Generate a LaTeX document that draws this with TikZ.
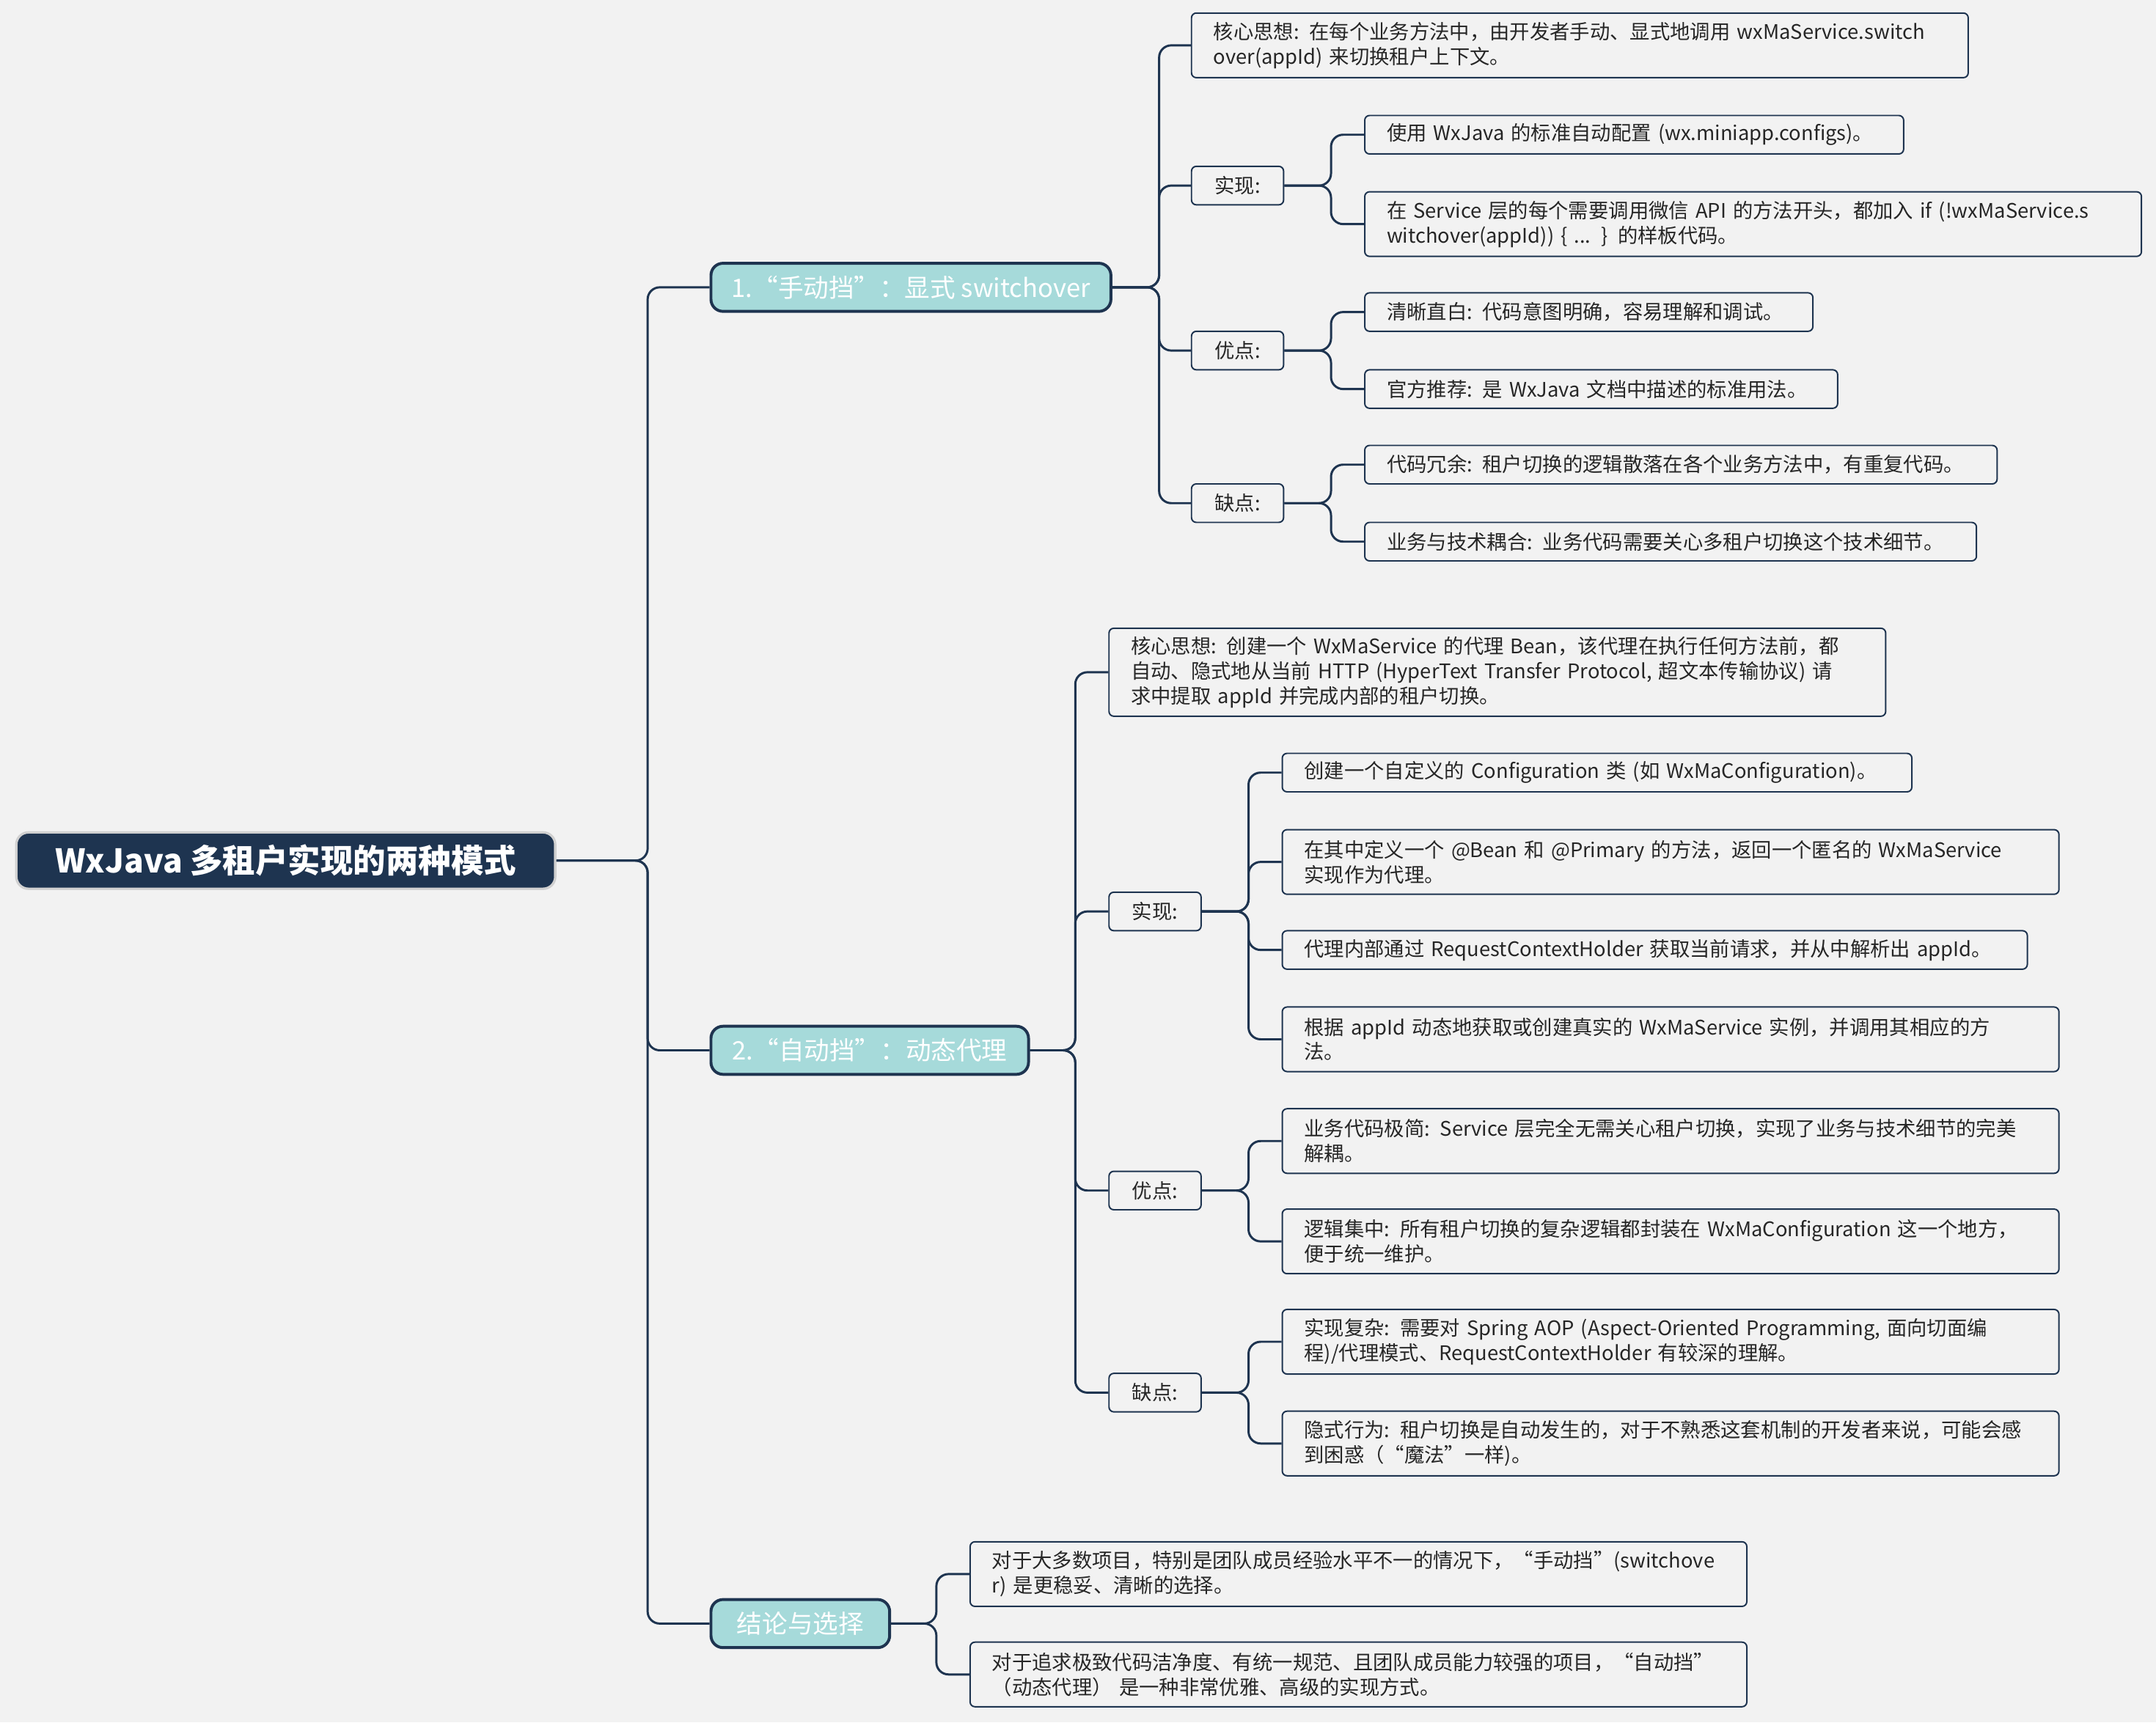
\documentclass[tikz,border=0pt]{standalone}
\usepackage{fontspec}
\setmainfont{Noto Sans CJK SC}
\definecolor{navy}{HTML}{1E3450}
\definecolor{bg}{HTML}{F2F2F2}
\definecolor{teal1}{HTML}{A6DADA}
\begin{document}
\begin{tikzpicture}[x=0.02cm,y=-0.02cm,
 conn/.style={draw=navy,line width=0.9pt,rounded corners=5pt},
 leaf/.style={draw=navy,line width=0.6pt,fill=bg,rounded corners=2pt,anchor=west,align=left,
   text width=#1,inner xsep=0.32cm,inner ysep=0.1cm,font=\fontsize{8.3}{10.3}\selectfont,text=black!85},
 lab/.style={draw=navy,line width=0.6pt,fill=bg,rounded corners=2pt,anchor=west,minimum width=1.34cm,
   minimum height=0.56cm,inner sep=0pt,font=\fontsize{8.3}{10}\selectfont,text=black!85},
 br/.style={draw=navy,line width=1.2pt,fill=teal1,rounded corners=5pt,anchor=west,minimum height=0.7cm,
   inner xsep=0.3cm,font=\fontsize{10.5}{12}\selectfont,text=white},
 one/.style={minimum height=0.56cm},two/.style={minimum height=0.94cm}]
\fill[bg] (0,0) rectangle (1568,1253);
\useasboundingbox (0,0) rectangle (1568,1253);
\node[draw=bg!70!gray,line width=1pt,fill=navy,rounded corners=5pt,anchor=west,minimum width=7.84cm,minimum height=0.82cm,
  font=\fontsize{13.5}{15}\selectfont\bfseries,text=white] (root) at (11,626) {WxJava 多租户实现的两种模式};
\node[br,minimum width=5.8cm] (b1) at (516,209) {1.“手动挡”：显式 switchover};
\node[br,minimum width=4.62cm] (b2) at (516,764) {2.“自动挡”：动态代理};
\node[br,minimum width=2.6cm] (b3) at (516,1181) {结论与选择};
\coordinate (t0) at (471,626);
\foreach \b in {b1,b2,b3}{\draw[conn] (root.east) -- (t0) |- (\b.west);}
% branch 1
\node[leaf=10.66cm,two] (c1) at (866,33) {核心思想: 在每个业务方法中，由开发者手动、显式地调用 wxMaService.switch\\over(appId) 来切换租户上下文。};
\node[lab] (i1) at (866,135) {实现:};
\node[lab] (a1) at (866,255) {优点:};
\node[lab] (d1) at (866,366) {缺点:};
\coordinate (t1) at (843,209);
\foreach \c in {c1,i1,a1,d1}{\draw[conn] (b1.east) -- (t1) |- (\c.west);}
\node[leaf=7.2cm,one] (i1a) at (992,98) {使用 WxJava 的标准自动配置 (wx.miniapp.configs)。};
\node[leaf=10.66cm,two] (i1b) at (992,163) {在 Service 层的每个需要调用微信 API 的方法开头，都加入 if (!wxMaService.s\\witchover(appId)) \{ ... \} 的样板代码。};
\node[leaf=5.88cm,one] (a1a) at (992,227) {清晰直白: 代码意图明确，容易理解和调试。};
\node[leaf=6.24cm,one] (a1b) at (992,283) {官方推荐: 是 WxJava 文档中描述的标准用法。};
\node[leaf=8.56cm,one] (d1a) at (992,338) {代码冗余: 租户切换的逻辑散落在各个业务方法中，有重复代码。};
\node[leaf=8.26cm,one] (d1b) at (992,394) {业务与技术耦合: 业务代码需要关心多租户切换这个技术细节。};
\coordinate (s1) at (968,135);\coordinate (s2) at (968,255);\coordinate (s3) at (968,366);
\foreach \c in {i1a,i1b}{\draw[conn] (i1.east) -- (s1) |- (\c.west);}
\foreach \c in {a1a,a1b}{\draw[conn] (a1.east) -- (s2) |- (\c.west);}
\foreach \c in {d1a,d1b}{\draw[conn] (d1.east) -- (s3) |- (\c.west);}
% branch 2
\node[leaf=10.66cm,minimum height=1.28cm] (c2) at (806,489) {核心思想: 创建一个 WxMaService 的代理 Bean，该代理在执行任何方法前，都\\自动、隐式地从当前 HTTP (HyperText Transfer Protocol, 超文本传输协议) 请\\求中提取 appId 并完成内部的租户切换。};
\node[lab] (i2) at (806,663) {实现:};
\node[lab] (a2) at (806,866) {优点:};
\node[lab] (d2) at (806,1013) {缺点:};
\coordinate (t2) at (782,764);
\foreach \c in {c2,i2,a2,d2}{\draw[conn] (b2.east) -- (t2) |- (\c.west);}
\node[leaf=8.52cm,one] (i2a) at (932,562) {创建一个自定义的 Configuration 类 (如 WxMaConfiguration)。};
\node[leaf=10.66cm,two] (i2b) at (932,627) {在其中定义一个 @Bean 和 @Primary 的方法，返回一个匿名的 WxMaService\\实现作为代理。};
\node[leaf=10.2cm,one] (i2c) at (932,691) {代理内部通过 RequestContextHolder 获取当前请求，并从中解析出 appId。};
\node[leaf=10.66cm,two] (i2d) at (932,756) {根据 appId 动态地获取或创建真实的 WxMaService 实例，并调用其相应的方\\法。};
\node[leaf=10.66cm,two] (a2a) at (932,830) {业务代码极简: Service 层完全无需关心租户切换，实现了业务与技术细节的完美\\解耦。};
\node[leaf=10.66cm,two] (a2b) at (932,903) {逻辑集中: 所有租户切换的复杂逻辑都封装在 WxMaConfiguration 这一个地方，\\便于统一维护。};
\node[leaf=10.66cm,two] (d2a) at (932,976) {实现复杂: 需要对 Spring AOP (Aspect-Oriented Programming, 面向切面编\\程)/代理模式、RequestContextHolder 有较深的理解。};
\node[leaf=10.66cm,two] (d2b) at (932,1050) {隐式行为: 租户切换是自动发生的，对于不熟悉这套机制的开发者来说，可能会感\\到困惑（“魔法”一样)。};
\coordinate (u1) at (908,663);\coordinate (u2) at (908,866);\coordinate (u3) at (908,1013);
\foreach \c in {i2a,i2b,i2c,i2d}{\draw[conn] (i2.east) -- (u1) |- (\c.west);}
\foreach \c in {a2a,a2b}{\draw[conn] (a2.east) -- (u2) |- (\c.west);}
\foreach \c in {d2a,d2b}{\draw[conn] (d2.east) -- (u3) |- (\c.west);}
% branch 3
\node[leaf=10.66cm,two] (e1) at (705,1145) {对于大多数项目，特别是团队成员经验水平不一的情况下，“手动挡”(switchove\\r) 是更稳妥、清晰的选择。};
\node[leaf=10.66cm,two] (e2) at (705,1218) {对于追求极致代码洁净度、有统一规范、且团队成员能力较强的项目，“自动挡”\\（动态代理） 是一种非常优雅、高级的实现方式。};
\coordinate (t3) at (681,1181);
\foreach \c in {e1,e2}{\draw[conn] (b3.east) -- (t3) |- (\c.west);}
\end{tikzpicture}
\end{document}
